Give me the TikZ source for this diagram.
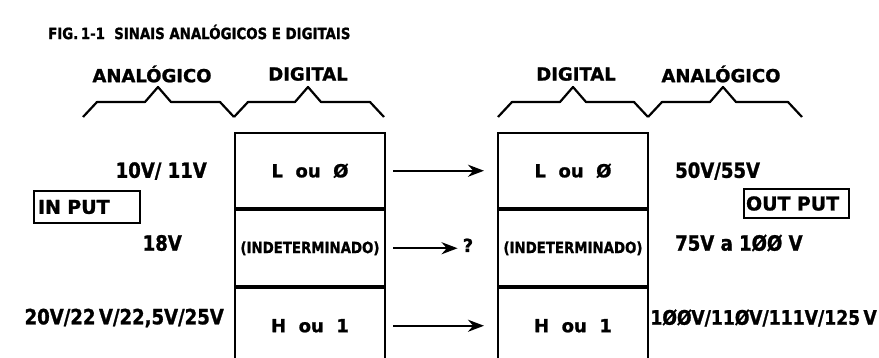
\documentclass[tikz,border=0pt]{standalone}
\usepackage{fontspec}
\setmainfont{DejaVu Sans}[BoldFeatures={FakeBold=1.2}]
\newfontfamily\tallfont{DejaVu Sans}[BoldFeatures={FakeBold=1.2,FakeStretch=0.86}]
\usetikzlibrary{positioning,arrows.meta}

\tikzset{
  lettering/.style={font=\bfseries\fontsize{18}{20}\selectfont, inner sep=0pt},
  volts/.style={font=\tallfont\bfseries\fontsize{21}{23}\selectfont, inner sep=0pt},
  cell/.style={draw, line width=2pt, minimum width=150pt, minimum height=75.5pt, inner sep=0pt, lettering},
  iobox/.style={draw, line width=2pt, lettering, font=\bfseries\fontsize{19}{21}\selectfont, align=left, inner ysep=0pt},
  brace/.style={line width=2.2pt, line join=round},
  flow/.style={line width=2.4pt, -{Stealth[length=16pt,width=12pt]}},
}
% #1 = left end, #2 = peak, #3 = right end
\newcommand{\hdbrace}[3]{\draw[brace] (#1,117)--({#1+14},102)--({#2-13},102)--(#2,87)--({#2+13},102)--({#3-14},102)--(#3,117);}

\begin{document}
\begin{tikzpicture}[x=1pt,y=-1pt]
\useasboundingbox (0,0) rectangle (879,358);
\clip (0,0) rectangle (879,358);
% title
\node [lettering, font=\tallfont\bfseries\fontsize{15.5}{17}\selectfont, anchor=west] (title) at (48,32) {FIG.\,1-1\ \ SINAIS ANALÓGICOS E DIGITAIS};
% headings
\node [lettering] (anaL) at (152,74) {ANALÓGICO};
\node [lettering] (digL) at (308,74) {DIGITAL};
\node [lettering] (digR) at (576,74) {DIGITAL};
\node [lettering] (anaR) at (721,74) {ANALÓGICO};
\hdbrace{83}{158}{234}
\hdbrace{234}{308}{384}
\hdbrace{498}{573}{648}
\hdbrace{648}{723}{802}
% digital boxes
\node [cell, anchor=north] (lowL) at (310,132) {L\ \ ou\ \ Ø};
\node [cell, below=0pt of lowL, font=\tallfont\bfseries\fontsize{15.5}{17}\selectfont] (midL) {(INDETERMINADO)};
\node [cell, below=0pt of midL] (highL) {H\ \ ou\ \ 1};
\node [cell, anchor=north] (lowR) at (573,132) {L\ \ ou\ \ Ø};
\node [cell, below=0pt of lowR, font=\tallfont\bfseries\fontsize{15.5}{17}\selectfont] (midR) {(INDETERMINADO)};
\node [cell, below=0pt of midR] (highR) {H\ \ ou\ \ 1};
% arrows
\node [lettering] (what) at (468,245.25) {?};
\draw [flow, shorten <=7pt, shorten >=13pt] (lowL) -- (lowR);
\draw [flow, shorten <=7pt, shorten >=5pt] (midL.east) -- (what.west |- midL.east);
\draw [flow, shorten <=7pt, shorten >=13pt] (highL) -- (highR);
% input side
\node [volts, anchor=east] (vLowIn) at (207,171) {10V/\ 11V};
\node [volts, anchor=east] (vMidIn) at (182,243) {18V};
\node [volts, anchor=east] (vHighIn) at (224,318) {20V/22\,V/22,5V/25V};
\node [iobox, text width=98pt, minimum height=32pt, inner xsep=4pt, anchor=north west] (input) at (33,190) {IN PUT};
% output side
\node [volts, anchor=west] (vLowOut) at (675,171) {50V/55V};
\node [volts, anchor=west] (vMidOut) at (675,243) {75V a 1ØØ V};
\node [volts, anchor=east, font=\tallfont\bfseries\fontsize{20}{22}\selectfont] (vHighOut) at (877,318) {1ØØV/11ØV/111V/125\,V};
\node [iobox, text width=101pt, minimum height=29pt, inner xsep=2pt, anchor=north west] (output) at (743,188) {OUT PUT};
\end{tikzpicture}
\end{document}
